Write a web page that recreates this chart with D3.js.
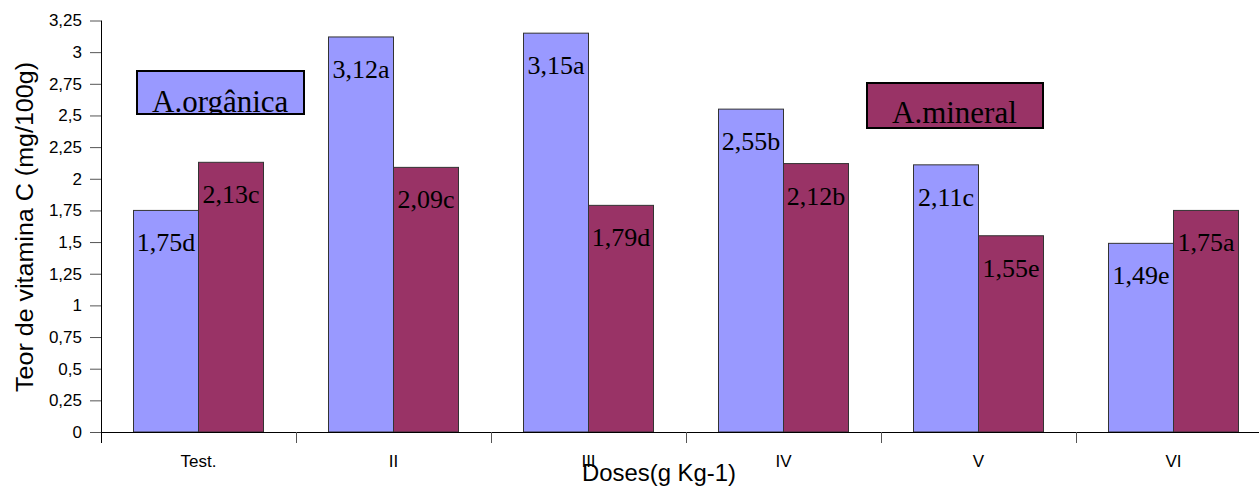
<!DOCTYPE html>
<html>
<head>
<meta charset="utf-8">
<script src="https://cdn.jsdelivr.net/npm/d3@7"></script>
<style>
  html, body { margin: 0; padding: 0; background: #fff; }
  svg { display: block; }
</style>
</head>
<body>
<svg id="chart" width="1259" height="489"></svg>
<script>
// ---- data ----
const categories = ["Test.", "II", "III", "IV", "V", "VI"];
const seriesNames = ["A.orgânica", "A.mineral"];
const organicValues = [1.75, 3.12, 3.15, 2.55, 2.11, 1.49];
const organicLetters = ["d", "a", "a", "b", "c", "e"];
const mineralValues = [2.13, 2.09, 1.79, 2.12, 1.55, 1.75];
const mineralLetters = ["c", "c", "d", "b", "e", "a"];
const yTickValues = [0, 0.25, 0.5, 0.75, 1, 1.25, 1.5, 1.75, 2, 2.25, 2.5, 2.75, 3, 3.25];
const yTickLabels = ["0", "0,25", "0,5", "0,75", "1", "1,25", "1,5", "1,75", "2", "2,25", "2,5", "2,75", "3", "3,25"];
const colors = ["#9999FF", "#993366"];

(function () {
const svg = d3.select("#chart");
const mLeft = 101, mRight = 1271, mTop = 20.5, mBottom = 432;

const x0 = d3.scaleBand().domain(categories).range([mLeft, mRight]).padding(0);
const x1 = d3.scaleBand().domain(seriesNames).range([0, x0.bandwidth()]).paddingInner(0).paddingOuter(0.5);
const y = d3.scaleLinear().domain([0, 3.25]).range([mBottom, mTop]);

const rows = [];
categories.forEach((c, i) => {
  rows.push({cat: c, s: seriesNames[0], v: organicValues[i], l: organicLetters[i], color: colors[0]});
  rows.push({cat: c, s: seriesNames[1], v: mineralValues[i], l: mineralLetters[i], color: colors[1]});
});

const fmt = v => d3.format(".2f")(v).replace(".", ",");

// bars
svg.append("g").selectAll("rect").data(rows).join("rect")
  .attr("x", d => x0(d.cat) + x1(d.s))
  .attr("y", d => y(d.v))
  .attr("width", x1.bandwidth())
  .attr("height", d => y(0) - y(d.v))
  .attr("fill", d => d.color)
  .attr("stroke", "#333")
  .attr("stroke-width", 1);

// bar labels
svg.append("g").selectAll("text").data(rows).join("text")
  .attr("x", d => x0(d.cat) + x1(d.s) + x1.bandwidth() / 2)
  .attr("y", d => y(d.v) + 41)
  .attr("text-anchor", "middle")
  .attr("font-family", "'Liberation Serif', 'Times New Roman', serif")
  .attr("font-size", 26)
  .attr("fill", "#000")
  .text(d => fmt(d.v) + d.l);

// y axis
const yAxis = d3.axisLeft(y).tickValues(yTickValues)
  .tickFormat((d, i) => yTickLabels[i]).tickSize(11).tickPadding(8);
const gy = svg.append("g").attr("transform", `translate(${mLeft},0)`).call(yAxis);
gy.select(".domain").attr("d", `M0.5,${mTop}V${mBottom + 11}`).attr("stroke", "#000");
gy.selectAll(".tick line").attr("stroke", "#555");
gy.selectAll(".tick text").attr("font-family", "'Liberation Sans', Arial, sans-serif").attr("font-size", 17).attr("fill", "#000");

// x axis
const xAxis = d3.axisBottom(x0).tickSize(0).tickPadding(0);
const gx = svg.append("g").attr("transform", `translate(0,${mBottom})`).call(xAxis);
gx.select(".domain").attr("d", `M${mLeft},0.5H1259`).attr("stroke", "#000");
gx.selectAll(".tick text").attr("dy", 0).attr("y", 35)
  .attr("font-family", "'Liberation Sans', Arial, sans-serif").attr("font-size", 17).attr("fill", "#000");
// boundary ticks
svg.append("g").selectAll("line").data(categories.slice(1)).join("line")
  .attr("x1", d => x0(d) + 0.5).attr("x2", d => x0(d) + 0.5)
  .attr("y1", mBottom).attr("y2", mBottom + 11)
  .attr("stroke", "#555");

// axis titles
svg.append("text")
  .attr("transform", `translate(33,${(62 + 392) / 2}) rotate(-90)`)
  .attr("text-anchor", "middle")
  .attr("font-family", "'Liberation Sans', Arial, sans-serif")
  .attr("font-size", 23)
  .attr("textLength", 330).attr("lengthAdjust", "spacingAndGlyphs")
  .text("Teor de vitamina C (mg/100g)");

svg.append("text")
  .attr("x", 582).attr("y", 481)
  .attr("font-family", "'Liberation Sans', Arial, sans-serif")
  .attr("font-size", 24)
  .attr("textLength", 154).attr("lengthAdjust", "spacingAndGlyphs")
  .text("Doses(g Kg-1)");

// legend-like labels
const legends = [
  {name: seriesNames[0], color: colors[0], x: 137, y: 71, w: 167, h: 43, tx: 152, ty: 112},
  {name: seriesNames[1], color: colors[1], x: 867, y: 83, w: 176, h: 45, tx: 892, ty: 123}
];
const defs = svg.append("defs");
legends.forEach((L, i) => {
  defs.append("clipPath").attr("id", "clip" + i)
    .append("rect").attr("x", L.x).attr("y", L.y).attr("width", L.w).attr("height", L.h);
  const g = svg.append("g");
  g.append("rect").attr("x", L.x).attr("y", L.y).attr("width", L.w).attr("height", L.h)
    .attr("fill", L.color);
  g.append("text").attr("x", L.tx).attr("y", L.ty)
    .attr("clip-path", `url(#clip${i})`)
    .attr("font-family", "'Liberation Serif', 'Times New Roman', serif")
    .attr("font-size", 31).attr("fill", "#000")
    .text(L.name);
  g.append("rect").attr("x", L.x).attr("y", L.y).attr("width", L.w).attr("height", L.h)
    .attr("fill", "none").attr("stroke", "#000").attr("stroke-width", 2);
});
})();
</script>
</body>
</html>
